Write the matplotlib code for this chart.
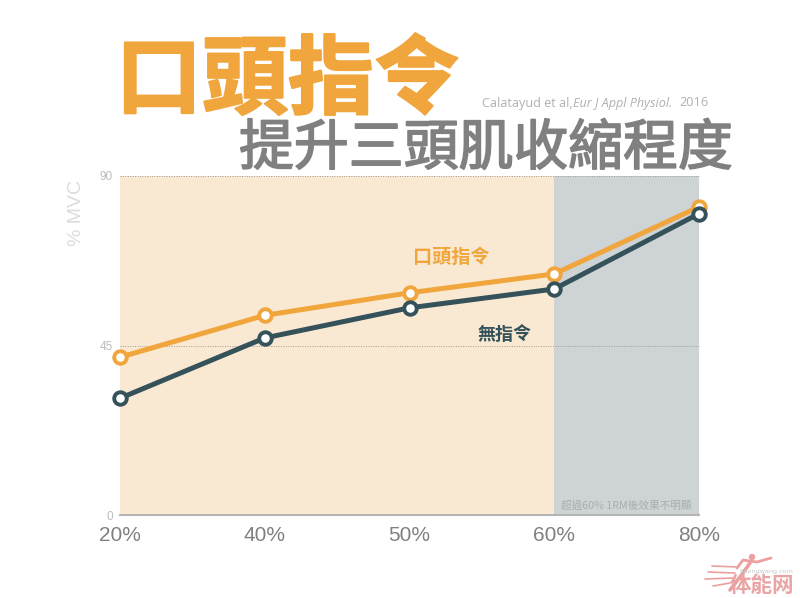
import matplotlib
matplotlib.use("Agg")
import matplotlib.pyplot as plt
import matplotlib.patheffects as pe
from matplotlib.lines import Line2D
from matplotlib.patches import Circle

CJK = ['Noto Sans CJK TC', 'DejaVu Sans']
plt.rcParams['font.family'] = CJK

categories = ['20%', '40%', '50%', '60%', '80%']
verbal_cue = [41.9, 53.0, 59.0, 64.0, 81.8]
no_cue = [31.0, 47.0, 55.0, 60.0, 80.0]
y_ticks = [0, 45, 90]
x_pos = list(range(len(categories)))

ORANGE = '#F0A63C'
DARK = '#35525A'
PINK = '#EE9F9F'

fig = plt.figure(figsize=(8.0, 5.98), dpi=100, facecolor='white')
ax = fig.add_axes([120 / 800, 83 / 598, 579 / 800, 339 / 598])
ax.set_xlim(0, 4)
ax.set_ylim(0, 90)
ax.axvspan(0, 3, color='#FAE9D2', lw=0, zorder=0)
ax.axvspan(3, 4, color='#CED4D5', lw=0, zorder=0)

for v in y_ticks[1:]:
    ax.axhline(v, color='#9a9a9a', lw=0.7, ls=(0, (1, 1.5)), zorder=1, clip_on=False)

ax.plot(x_pos, verbal_cue, color=ORANGE, lw=3.6, marker='o', ms=9, mfc='white',
        mec=ORANGE, mew=2.8, zorder=3, clip_on=False)
ax.plot(x_pos, no_cue, color=DARK, lw=3.6, marker='o', ms=9, mfc='white',
        mec=DARK, mew=2.8, zorder=4, clip_on=False)

for s in ['top', 'right', 'left']:
    ax.spines[s].set_visible(False)
ax.spines['bottom'].set_color('#b5b5b5')
ax.spines['bottom'].set_linewidth(1.5)

ax.set_xticks(x_pos)
ax.set_xticklabels(categories, fontsize=15, color='#808080', family=['Liberation Sans'])
ax.set_yticks(y_ticks)
ax.set_yticklabels([str(v) for v in y_ticks], fontsize=8.5, color='#bbbbbb', family=['Liberation Sans'])
ax.tick_params(axis='both', length=0)
ax.tick_params(axis='x', pad=8)
ax.tick_params(axis='y', pad=5)
ax.set_ylabel('% MVC', fontsize=14, color='#dcdcdc', family=['Liberation Sans'])
ax.yaxis.set_label_coords(-0.06, 0.89)

fig.text(451 / 800, 1 - 258 / 598, '口頭指令', color=ORANGE, fontsize=13.8, fontweight='bold',
         ha='center', va='center')
fig.text(505 / 800, 1 - 334 / 598, '無指令', color=DARK, fontsize=13, fontweight='bold',
         ha='center', va='center')
fig.text(626 / 800, 1 - 505 / 598, '超過60% 1RM後效果不明顯', color='#a9adae', fontsize=7.7,
         ha='center', va='center')

fig.text(288 / 800, 1 - 82 / 598, '口頭指令', color=ORANGE, fontsize=62, fontweight='bold',
         ha='center', va='center',
         path_effects=[pe.withStroke(linewidth=1.5, foreground=ORANGE)])
fig.text(486 / 800, 1 - 149 / 598, '提升三頭肌收縮程度', color='#808080', fontsize=39.5,
         ha='center', va='center',
         path_effects=[pe.withStroke(linewidth=1.2, foreground='#808080')])
fig.text(482 / 800, 1 - 103 / 598, 'Calatayud et al,', color='#b0b0b0', fontsize=9.1,
         family=['Open Sans'], ha='left', va='center')
fig.text(573 / 800, 1 - 103 / 598, 'Eur J Appl Physiol.', color='#b0b0b0', fontsize=9.1,
         family=['Open Sans'], style='italic', ha='left', va='center')
fig.text(679 / 800, 1 - 103 / 598, '2016', color='#b0b0b0', fontsize=9.1,
         family=['Open Sans'], ha='left', va='center')

# watermark
def px(x, y):
    return x / 800, 1 - y / 598

wm_strokes = [
    ([712, 738], [566, 567], 1.2),
    ([708, 735], [572, 573], 1.2),
    ([705, 733], [579, 578], 1.2),
    ([713, 730], [586, 583], 1.2),
    ([737, 743, 757, 771], [568, 560, 562, 558], 2.0),
    ([750, 740, 730], [563, 577, 590], 2.6),
]
for xs, ys, w in wm_strokes:
    fx, fy = zip(*(px(x, y) for x, y in zip(xs, ys)))
    fig.add_artist(Line2D(fx, fy, color=PINK, lw=w, transform=fig.transFigure, solid_capstyle='round'))
fig.add_artist(Circle((752, 598 - 557), 3.2, color=PINK, lw=0, transform=None))
fig.text(762 / 800, 1 - 585 / 598, '体能网', color='#E9A5A5', fontsize=15.5, fontweight='bold',
         ha='center', va='center')
fig.text(767 / 800, 1 - 572 / 598, 'tinengwang.com', color='#c8c8c8', fontsize=4.6,
         family=['DejaVu Sans'], ha='center', va='center')

fig.savefig('out.png', dpi=100, facecolor='white')
